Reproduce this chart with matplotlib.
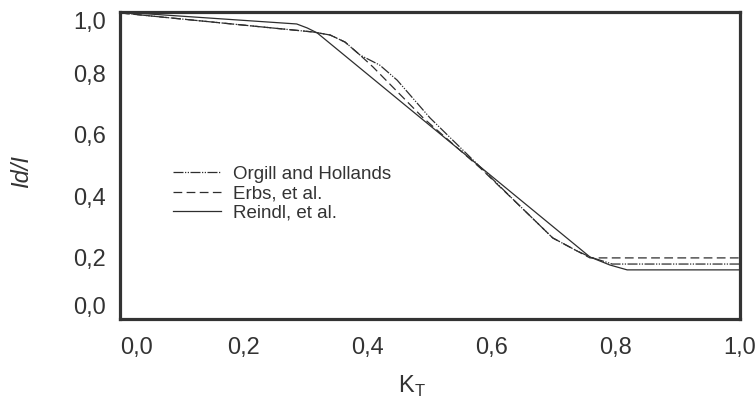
import matplotlib
matplotlib.use('Agg')
import matplotlib.pyplot as plt

plt.rcParams['font.family'] = ['Liberation Sans', 'DejaVu Sans']

# values (kt, Id/I)
kt_orgill = [0.0, 0.311, 0.339, 0.363, 0.387, 0.419, 0.447, 0.500, 0.581, 0.645, 0.698, 0.734, 0.758, 0.794, 1.0]
id_orgill = [0.997, 0.935, 0.925, 0.902, 0.860, 0.827, 0.778, 0.655, 0.495, 0.368, 0.264, 0.225, 0.202, 0.179, 0.179]

kt_erbs = [0.0, 0.311, 0.339, 0.363, 0.387, 0.408, 0.489, 0.581, 0.645, 0.698, 0.734, 0.758, 1.0]
id_erbs = [0.997, 0.935, 0.925, 0.902, 0.860, 0.821, 0.655, 0.492, 0.368, 0.264, 0.225, 0.199, 0.199]

kt_reindl = [0.0, 0.285, 0.302, 0.318, 0.758, 0.790, 0.818, 1.0]
id_reindl = [1.0, 0.961, 0.948, 0.932, 0.202, 0.176, 0.160, 0.160]

xticks = [0.0, 0.2, 0.4, 0.6, 0.8, 1.0]
yticks = [0.0, 0.2, 0.4, 0.6, 0.8, 1.0]
xticklabels = ['0,0', '0,2', '0,4', '0,6', '0,8', '1,0']
yticklabels = ['0,0', '0,2', '0,4', '0,6', '0,8', '1,0']

fig = plt.figure(figsize=(7.55, 3.98), dpi=100)
ax = fig.add_axes([120/755, 1-319/398, 620/755, 307/398])

c = '#2e2e2e'
ax.plot(kt_orgill, id_orgill, color=c, lw=0.9, dashes=(8, 1.2, 1, 1.2, 1, 1.2),
        label='Orgill and Hollands')
ax.plot(kt_erbs, id_erbs, color=c, lw=0.9, dashes=(7, 3.5), label='Erbs, et al.')
ax.plot(kt_reindl, id_reindl, color=c, lw=0.9, label='Reindl, et al.')

ax.set_xlim(0, 1)
ax.set_ylim(0, 1)
ax.set_xticks(xticks)
ax.set_xticklabels(xticklabels)
ax.set_yticks(yticks)
ax.set_yticklabels(yticklabels)
ax.tick_params(axis='both', length=0, labelsize=17, colors='#333333')
ax.tick_params(axis='x', pad=13)
ax.tick_params(axis='y', pad=10)

# end labels sit inside the frame in the original
ax.get_xticklabels()[0].set_ha('left')
ax.get_yticklabels()[0].set_va('bottom')
ax.get_yticklabels()[-1].set_va('top')

for s in ax.spines.values():
    s.set_linewidth(2.3)
    s.set_color('#333333')

ax.set_ylabel('Id/I', fontsize=17, style='italic', color='#333333', va='center')
ax.yaxis.set_label_coords(-0.158, 0.479)
ax.set_xlabel(r'K$_\mathregular{T}$', fontsize=17, color='#333333', va='center')
ax.xaxis.set_label_coords(0.471, -0.218)

ax.legend(loc='upper left', bbox_to_anchor=(0.085, 0.499), frameon=False,
          fontsize=13.5, handlelength=2.6, handletextpad=0.6,
          labelspacing=0.11, borderpad=0, borderaxespad=0,
          labelcolor='#333333')

fig.savefig('out.png', dpi=100)
